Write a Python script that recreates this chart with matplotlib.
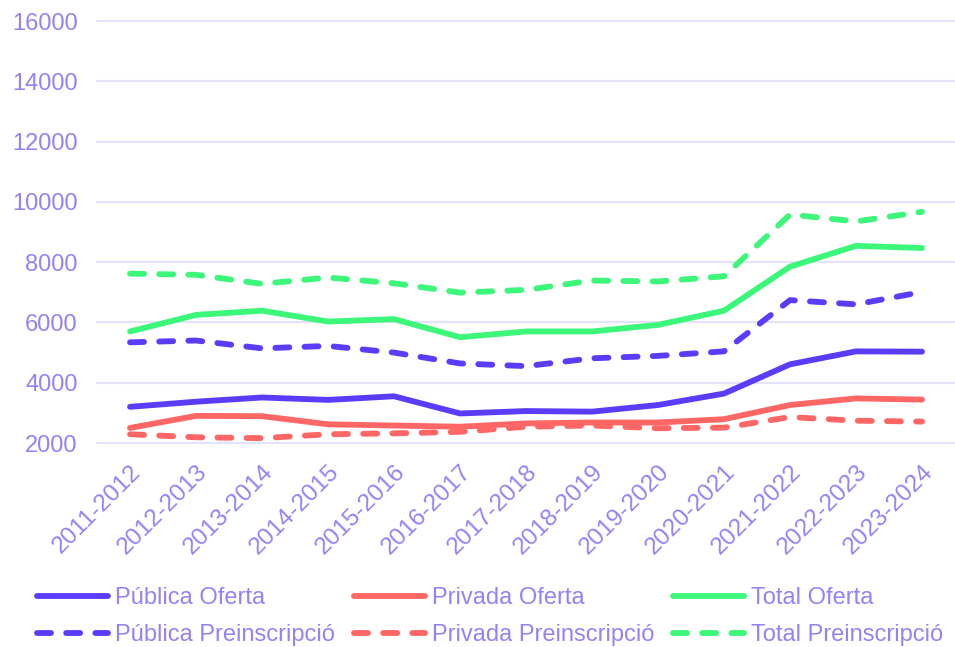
import matplotlib.pyplot as plt

# Academic years on the x axis
cursos = ['2011-2012', '2012-2013', '2013-2014', '2014-2015', '2015-2016',
          '2016-2017', '2017-2018', '2018-2019', '2019-2020', '2020-2021',
          '2021-2022', '2022-2023', '2023-2024']

publica_oferta = [3200, 3370, 3510, 3430, 3550, 2980, 3060, 3040, 3260, 3640, 4610, 5040, 5030]
privada_oferta = [2500, 2900, 2890, 2620, 2580, 2540, 2650, 2680, 2680, 2790, 3260, 3480, 3440]
total_oferta = [5700, 6250, 6390, 6030, 6110, 5510, 5700, 5700, 5920, 6390, 7850, 8540, 8470]

publica_preins = [5340, 5400, 5140, 5220, 5000, 4640, 4550, 4810, 4890, 5040, 6740, 6600, 7010]
privada_preins = [2290, 2190, 2160, 2290, 2320, 2370, 2540, 2580, 2490, 2510, 2860, 2740, 2710]
total_preins = [7620, 7580, 7280, 7490, 7300, 6990, 7080, 7390, 7360, 7530, 9580, 9350, 9670]

blue = '#5b3cfa'
red = '#ff6666'
green = '#3df77b'
text_color = '#9583f5'
grid_color = '#e5e2fb'

plt.rcParams['font.family'] = ['Liberation Sans', 'DejaVu Sans']

fig = plt.figure(figsize=(9.55, 6.47), dpi=100)
ax = fig.add_axes([0.1016, 0.3153, 0.8984, 0.6522])

x = list(range(len(cursos)))
lw = 4.2
dash = (2.4, 2.6)

ax.plot(x, publica_oferta, color=blue, lw=lw, solid_capstyle='round', label='Pública Oferta')
ax.plot(x, privada_oferta, color=red, lw=lw, solid_capstyle='round', label='Privada Oferta')
ax.plot(x, total_oferta, color=green, lw=lw, solid_capstyle='round', label='Total Oferta')
ax.plot(x, publica_preins, color=blue, lw=lw, dashes=dash, dash_capstyle='round',
        label='Pública Preinscripció')
ax.plot(x, privada_preins, color=red, lw=lw, dashes=dash, dash_capstyle='round',
        label='Privada Preinscripció')
ax.plot(x, total_preins, color=green, lw=lw, dashes=dash, dash_capstyle='round',
        label='Total Preinscripció')

ax.set_xlim(-0.5, len(cursos) - 0.5)
ax.set_ylim(2000, 16000)
ax.set_yticks(range(2000, 16001, 2000))
ax.set_xticks(x)
ax.set_xticklabels(cursos, rotation=45, ha='right', rotation_mode='anchor')

ax.grid(axis='y', color=grid_color, lw=1.5)
ax.set_axisbelow(True)
for s in ax.spines.values():
    s.set_visible(False)
ax.tick_params(axis='both', length=0, labelsize=17, labelcolor=text_color)
ax.tick_params(axis='y', pad=14)
ax.tick_params(axis='x', labelsize=17.5, pad=13)
for gl in ax.get_ygridlines():
    gl.set_clip_on(False)

# Legend order: row-wise as in the reference (3 columns)
handles, labels = ax.get_legend_handles_labels()
order = [0, 3, 1, 4, 2, 5]
leg = fig.legend([handles[i] for i in order], [labels[i] for i in order],
                 ncol=3, loc='upper left', frameon=False, fontsize=17,
                 handlelength=3.0, handletextpad=0.3, columnspacing=0.8,
                 labelspacing=0.65, borderpad=0, borderaxespad=0)
leg.set_bbox_to_anchor((37 / 955, 1 - 587 / 647), transform=fig.transFigure)
for t in leg.get_texts():
    t.set_color(text_color)

fig.savefig('out.png', dpi=100)
